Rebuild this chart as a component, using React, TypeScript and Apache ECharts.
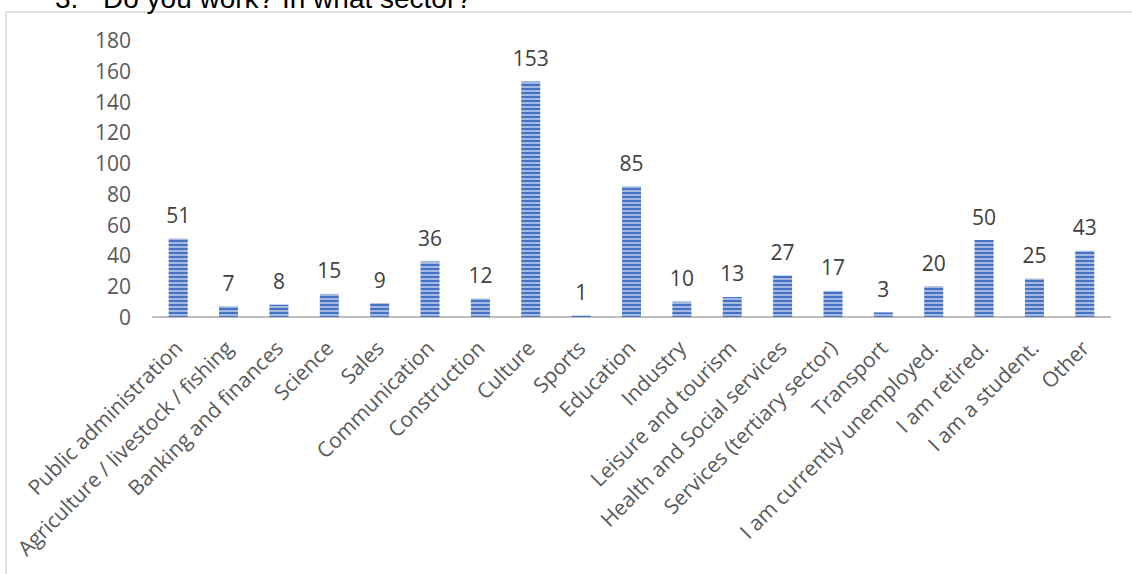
import React, { useEffect, useRef } from "react";
import * as echarts from "echarts";

const categories = [
  "Public administration",
  "Agriculture / livestock / fishing",
  "Banking and finances",
  "Science",
  "Sales",
  "Communication",
  "Construction",
  "Culture",
  "Sports",
  "Education",
  "Industry",
  "Leisure and tourism",
  "Health and Social services",
  "Services (tertiary sector)",
  "Transport",
  "I am currently unemployed.",
  "I am retired.",
  "I am a student.",
  "Other",
];
const values = [51, 7, 8, 15, 9, 36, 12, 153, 1, 85, 10, 13, 27, 17, 3, 20, 50, 25, 43];
const titleNumber = "3.";
const titleText = "Do you work? In what sector?";

const FONT = "'Open Sans', 'Liberation Sans', sans-serif";

function makeStripe(): HTMLCanvasElement {
  const c = document.createElement("canvas");
  c.width = 4;
  c.height = 4;
  const ctx = c.getContext("2d")!;
  ctx.fillStyle = "#4472C4";
  ctx.fillRect(0, 0, 4, 4);
  ctx.fillStyle = "#a3b9e2";
  ctx.fillRect(0, 2, 4, 2);
  return c;
}

export default function App() {
  const ref = useRef<HTMLDivElement>(null);
  useEffect(() => {
    document.body.style.margin = "0";
    const chart = echarts.init(ref.current!, null, { renderer: "svg" });
    const stripe = makeStripe();
    chart.setOption({
      animation: false,
      backgroundColor: "#ffffff",
      graphic: [
        {
          type: "rect",
          shape: { x: 6, y: 12, width: 1140, height: 600 },
          style: { fill: "none", stroke: "#d9d9d9", lineWidth: 1.5 },
          silent: true,
        },
        {
          type: "text",
          x: 55,
          y: 12,
          style: {
            text: titleNumber,
            font: "28px 'Liberation Sans', Arial, sans-serif",
            fill: "#000000",
            verticalAlign: "bottom",
          },
        },
        {
          type: "text",
          x: 103,
          y: 12,
          style: {
            text: titleText,
            font: "28px 'Liberation Sans', Arial, sans-serif",
            fill: "#000000",
            verticalAlign: "bottom",
          },
        },
      ],
      grid: { left: 153, right: 22, top: 40, bottom: 257, containLabel: false },
      xAxis: {
        type: "category",
        data: categories,
        axisLine: { show: true, lineStyle: { color: "#bfbfbf", width: 2 } },
        axisTick: { show: false },
        axisLabel: {
          interval: 0,
          rotate: 45,
          margin: 27,
          color: "#595959",
          fontSize: 21,
          fontFamily: FONT,
        },
      },
      yAxis: {
        type: "value",
        min: 0,
        max: 180,
        interval: 20,
        splitLine: { show: false },
        axisLine: { show: false },
        axisTick: { show: false },
        axisLabel: {
          margin: 22,
          color: "#595959",
          fontSize: 21,
          fontFamily: FONT,
        },
      },
      series: [
        {
          type: "bar",
          data: values,
          barWidth: 19,
          itemStyle: {
            color: { image: stripe, repeat: "repeat" },
          },
          label: {
            show: true,
            position: "top",
            distance: 13,
            color: "#404040",
            fontSize: 21,
            fontFamily: FONT,
          },
        },
      ],
    });
    return () => chart.dispose();
  }, []);
  return <div ref={ref} style={{ width: 1132, height: 574 }} />;
}
